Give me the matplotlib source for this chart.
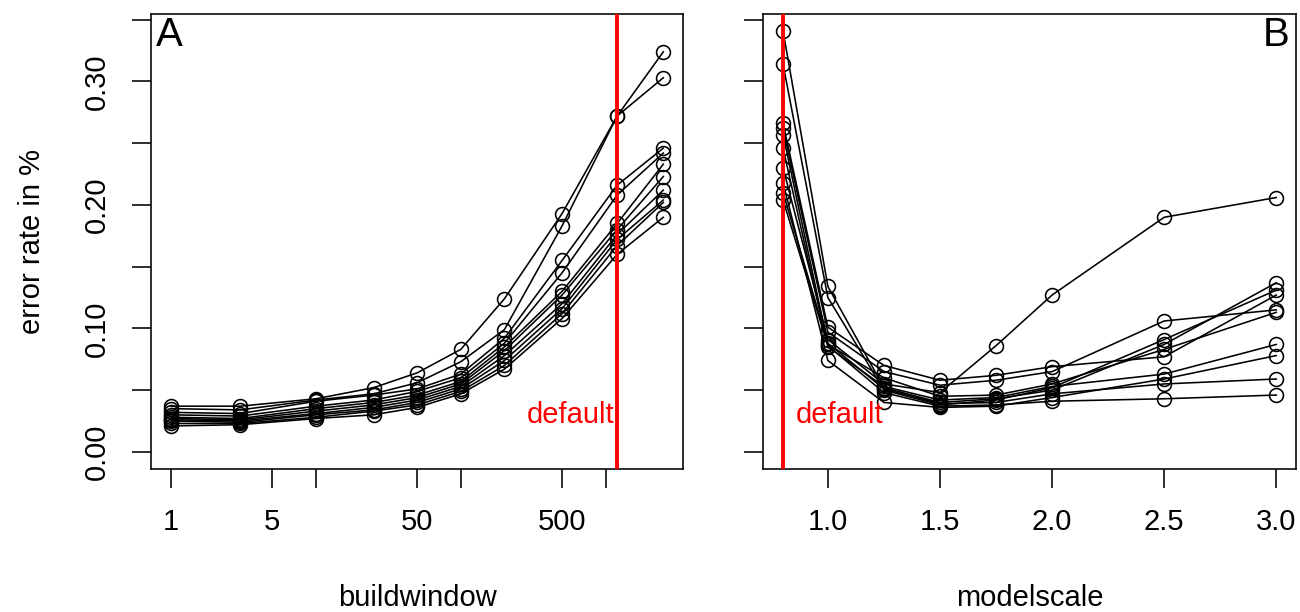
import matplotlib
matplotlib.use("Agg")
import math
import matplotlib.pyplot as plt
from matplotlib.ticker import FixedLocator, FixedFormatter, NullLocator

plt.rcParams['font.family'] = ['Liberation Sans', 'DejaVu Sans']

# ---------------- data ----------------
buildwindow = [1, 3, 10, 25, 50, 100, 200, 500, 1200, 2500]
err_A = [
    [0.037, 0.037, 0.043, 0.052, 0.064, 0.083, 0.124, 0.193, 0.272, 0.324],
    [0.035, 0.034, 0.042, 0.047, 0.056, 0.073, 0.099, 0.183, 0.272, 0.303],
    [0.032, 0.031, 0.041, 0.046, 0.051, 0.063, 0.092, 0.155, 0.216, 0.246],
    [0.030, 0.029, 0.037, 0.042, 0.049, 0.060, 0.088, 0.145, 0.208, 0.242],
    [0.028, 0.027, 0.035, 0.040, 0.046, 0.057, 0.085, 0.130, 0.185, 0.233],
    [0.027, 0.026, 0.033, 0.038, 0.044, 0.055, 0.082, 0.127, 0.180, 0.223],
    [0.026, 0.025, 0.031, 0.036, 0.042, 0.053, 0.078, 0.120, 0.176, 0.212],
    [0.025, 0.024, 0.030, 0.034, 0.040, 0.051, 0.074, 0.116, 0.172, 0.204],
    [0.023, 0.023, 0.028, 0.033, 0.038, 0.049, 0.070, 0.112, 0.167, 0.202],
    [0.021, 0.022, 0.027, 0.030, 0.036, 0.047, 0.067, 0.108, 0.160, 0.190],
]
default_A = 1200

modelscale = [0.8, 1.0, 1.25, 1.5, 1.75, 2.0, 2.5, 3.0]
err_B = [
    [0.230, 0.091, 0.055, 0.048, 0.086, 0.127, 0.190, 0.206],
    [0.341, 0.134, 0.052, 0.040, 0.043, 0.050, 0.087, 0.137],
    [0.314, 0.125, 0.050, 0.038, 0.042, 0.052, 0.091, 0.131],
    [0.266, 0.101, 0.070, 0.058, 0.062, 0.069, 0.077, 0.127],
    [0.262, 0.097, 0.065, 0.054, 0.058, 0.065, 0.106, 0.115],
    [0.257, 0.087, 0.060, 0.045, 0.046, 0.055, 0.083, 0.113],
    [0.246, 0.085, 0.053, 0.042, 0.044, 0.053, 0.063, 0.087],
    [0.218, 0.074, 0.040, 0.036, 0.037, 0.044, 0.059, 0.078],
    [0.210, 0.088, 0.051, 0.039, 0.040, 0.047, 0.055, 0.059],
    [0.204, 0.086, 0.048, 0.037, 0.038, 0.041, 0.043, 0.046],
]
default_B = 0.8

xticks_A = [1, 5, 10, 50, 100, 500, 1000]
xticklabels_A = ["1", "5", "", "50", "", "500", ""]
xticks_B = [1.0, 1.5, 2.0, 2.5, 3.0]
xticklabels_B = ["1.0", "1.5", "2.0", "2.5", "3.0"]
yticks = [0.00, 0.05, 0.10, 0.15, 0.20, 0.25, 0.30, 0.35]
yticklabels = ["0.00", "", "0.10", "", "0.20", "", "0.30", ""]

# ---------------- layout ----------------
W, H = 1300, 612
fig = plt.figure(figsize=(W / 100, H / 100), dpi=100)

def px_axes(x0, x1, y0, y1):
    return fig.add_axes([x0 / W, (H - y1) / H, (x1 - x0) / W, (y1 - y0) / H])

axA = px_axes(151.4, 683.0, 14.0, 468.7)
axB = px_axes(763.3, 1296.0, 14.0, 468.7)

ymax = max(max(max(s) for s in err_A), max(max(s) for s in err_B))
ylo, yhi = -0.04 * ymax, 1.04 * ymax

FS = 21
style = dict(color='black', lw=1.15, marker='o', ms=10, mfc='none',
             mec='black', mew=1.15)

for s in err_A:
    axA.plot(buildwindow, s, **style)
axA.set_xscale('log')
lmin, lmax = math.log10(min(buildwindow)), math.log10(max(buildwindow))
axA.set_xlim(10 ** (lmin - 0.04 * (lmax - lmin)), 10 ** (lmax + 0.04 * (lmax - lmin)))
axA.axvline(default_A, color='#ff0000', lw=2.8, zorder=5)
axA.text(default_A / 1.04, 0.0295, "default", color='#ff0000', fontsize=FS,
         ha='right', va='center')

for s in err_B:
    axB.plot(modelscale, s, **style)
bmin, bmax = min(modelscale), max(modelscale)
axB.set_xlim(bmin - 0.04 * (bmax - bmin), bmax + 0.04 * (bmax - bmin))
axB.axvline(default_B, color='#ff0000', lw=2.8, zorder=5)
axB.text(default_B + 0.055, 0.0295, "default", color='#ff0000', fontsize=FS,
         ha='left', va='center')

for ax in (axA, axB):
    ax.set_ylim(ylo, yhi)
    ax.yaxis.set_major_locator(FixedLocator(yticks))
    ax.yaxis.set_minor_locator(NullLocator())
    ax.xaxis.set_minor_locator(NullLocator())
    ax.tick_params(axis='both', direction='out', length=13.5, width=1.15,
                   labelsize=FS, color='black')
    ax.tick_params(axis='x', pad=15)
    for sp in ax.spines.values():
        sp.set_linewidth(1.15)
        sp.set_color('black')

axA.xaxis.set_major_locator(FixedLocator(xticks_A))
axA.xaxis.set_major_formatter(FixedFormatter(xticklabels_A))
axB.xaxis.set_major_locator(FixedLocator(xticks_B))
axB.xaxis.set_major_formatter(FixedFormatter(xticklabels_B))

axA.yaxis.set_major_formatter(FixedFormatter(yticklabels))
axA.tick_params(axis='y', labelrotation=90, pad=16)
for lab in axA.get_yticklabels():
    lab.set_va('center')
axB.yaxis.set_major_formatter(FixedFormatter([""] * len(yticks)))

def ftext(xp, yp, s, **kw):
    fig.text(xp / W, (H - yp) / H, s, **kw)

ftext(417, 598, "buildwindow", fontsize=FS, ha='center', va='center')
ftext(1030, 598, "modelscale", fontsize=FS, ha='center', va='center')
ftext(32, 241, "error rate in %", fontsize=FS, ha='center', va='center',
      rotation=90)
ftext(156, 16, "A", fontsize=29, ha='left', va='top')
ftext(1290, 16, "B", fontsize=29, ha='right', va='top')

fig.savefig("out.png", dpi=100)
